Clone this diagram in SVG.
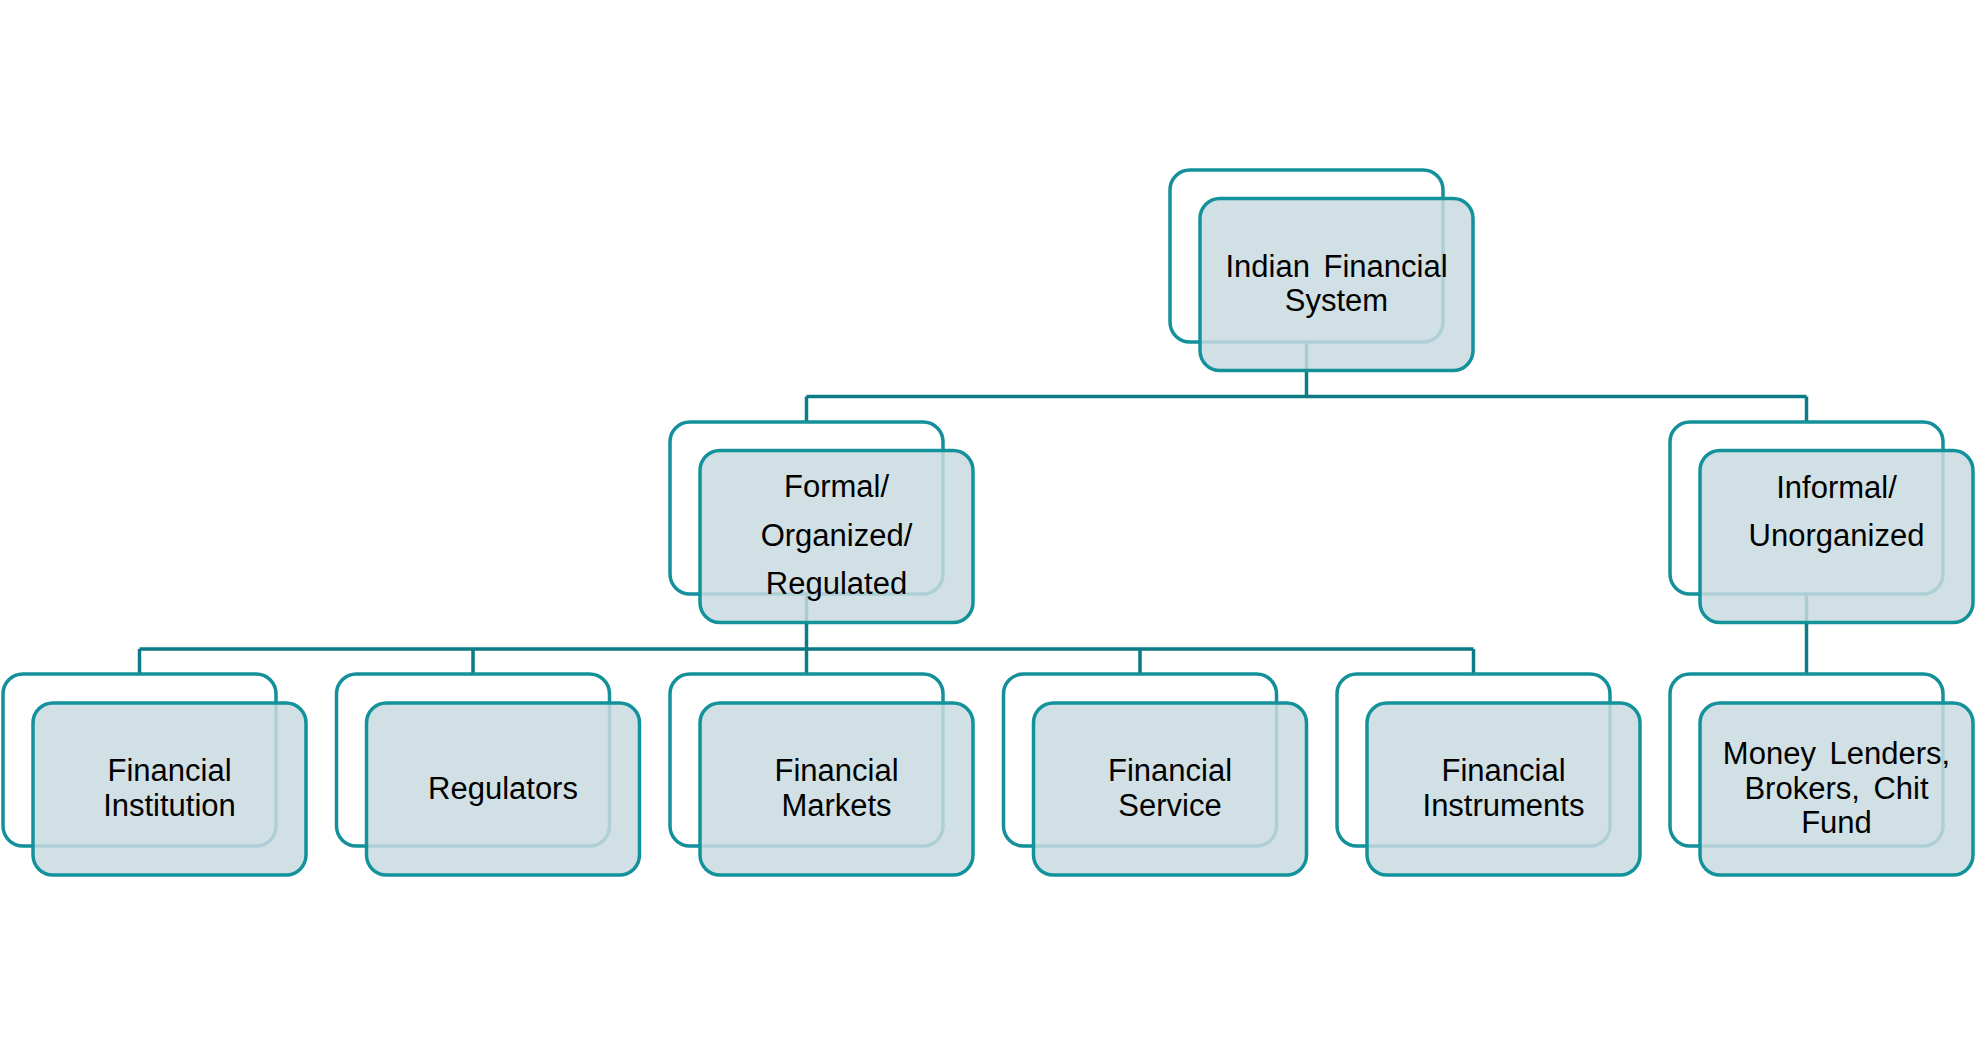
<svg xmlns="http://www.w3.org/2000/svg" width="1987" height="1044" viewBox="0 0 1987 1044">
<style>
.bk{fill:#ffffff;stroke:#13909A;stroke-width:3.5}
.fr{fill:#C9DADF;fill-opacity:0.85;stroke:#13929C;stroke-width:3.5}
.cn{fill:none;stroke:#0B7C86;stroke-width:3.5}
text{font-family:"Liberation Sans",Arial,sans-serif;font-size:31px;fill:#000;text-anchor:middle}
.ws{word-spacing:5px}
</style>
<rect width="1987" height="1044" fill="#fff"/>
<g id="connectors">
<path class="cn" d="M1306.5 342V396.5M806.5 396.5H1806.5M806.5 396.5V422M1806.5 396.5V422"/>
<path class="cn" d="M806.5 594V674M139.5 649H1473.5M139.5 649V674M473 649V674M1140 649V674M1473.5 649V674"/>
<path class="cn" d="M1806.5 594V674"/>
</g>
<g id="root">
<rect class="bk" x="1170" y="170" width="273" height="172" rx="20"/>
<rect class="fr" x="1200" y="198.5" width="273" height="172" rx="20"/>
<text x="1336.5" y="277" class="ws">Indian Financial</text>
<text x="1336.5" y="311">System</text>
</g>
<g id="formal">
<rect class="bk" x="670" y="422" width="273" height="172" rx="20"/>
<rect class="fr" x="700" y="450.5" width="273" height="172" rx="20"/>
<text x="836.5" y="497">Formal/</text>
<text x="836.5" y="546">Organized/</text>
<text x="836.5" y="594">Regulated</text>
</g>
<g id="informal">
<rect class="bk" x="1670" y="422" width="273" height="172" rx="20"/>
<rect class="fr" x="1700" y="450.5" width="273" height="172" rx="20"/>
<text x="1836.5" y="498">Informal/</text>
<text x="1836.5" y="546">Unorganized</text>
</g>
<g id="institution">
<rect class="bk" x="3" y="674" width="273" height="172" rx="20"/>
<rect class="fr" x="33" y="703" width="273" height="172" rx="20"/>
<text x="169.5" y="781">Financial</text>
<text x="169.5" y="816">Institution</text>
</g>
<g id="regulators">
<rect class="bk" x="336.5" y="674" width="273" height="172" rx="20"/>
<rect class="fr" x="366.5" y="703" width="273" height="172" rx="20"/>
<text x="503" y="799">Regulators</text>
</g>
<g id="markets">
<rect class="bk" x="670" y="674" width="273" height="172" rx="20"/>
<rect class="fr" x="700" y="703" width="273" height="172" rx="20"/>
<text x="836.5" y="781">Financial</text>
<text x="836.5" y="816">Markets</text>
</g>
<g id="service">
<rect class="bk" x="1003.5" y="674" width="273" height="172" rx="20"/>
<rect class="fr" x="1033.5" y="703" width="273" height="172" rx="20"/>
<text x="1170" y="781">Financial</text>
<text x="1170" y="816">Service</text>
</g>
<g id="instruments">
<rect class="bk" x="1337" y="674" width="273" height="172" rx="20"/>
<rect class="fr" x="1367" y="703" width="273" height="172" rx="20"/>
<text x="1503.5" y="781">Financial</text>
<text x="1503.5" y="816">Instruments</text>
</g>
<g id="moneylenders">
<rect class="bk" x="1670" y="674" width="273" height="172" rx="20"/>
<rect class="fr" x="1700" y="703" width="273" height="172" rx="20"/>
<text x="1836.5" y="764" class="ws">Money Lenders,</text>
<text x="1836.5" y="799" class="ws">Brokers, Chit</text>
<text x="1836.5" y="833">Fund</text>
</g>
</svg>
